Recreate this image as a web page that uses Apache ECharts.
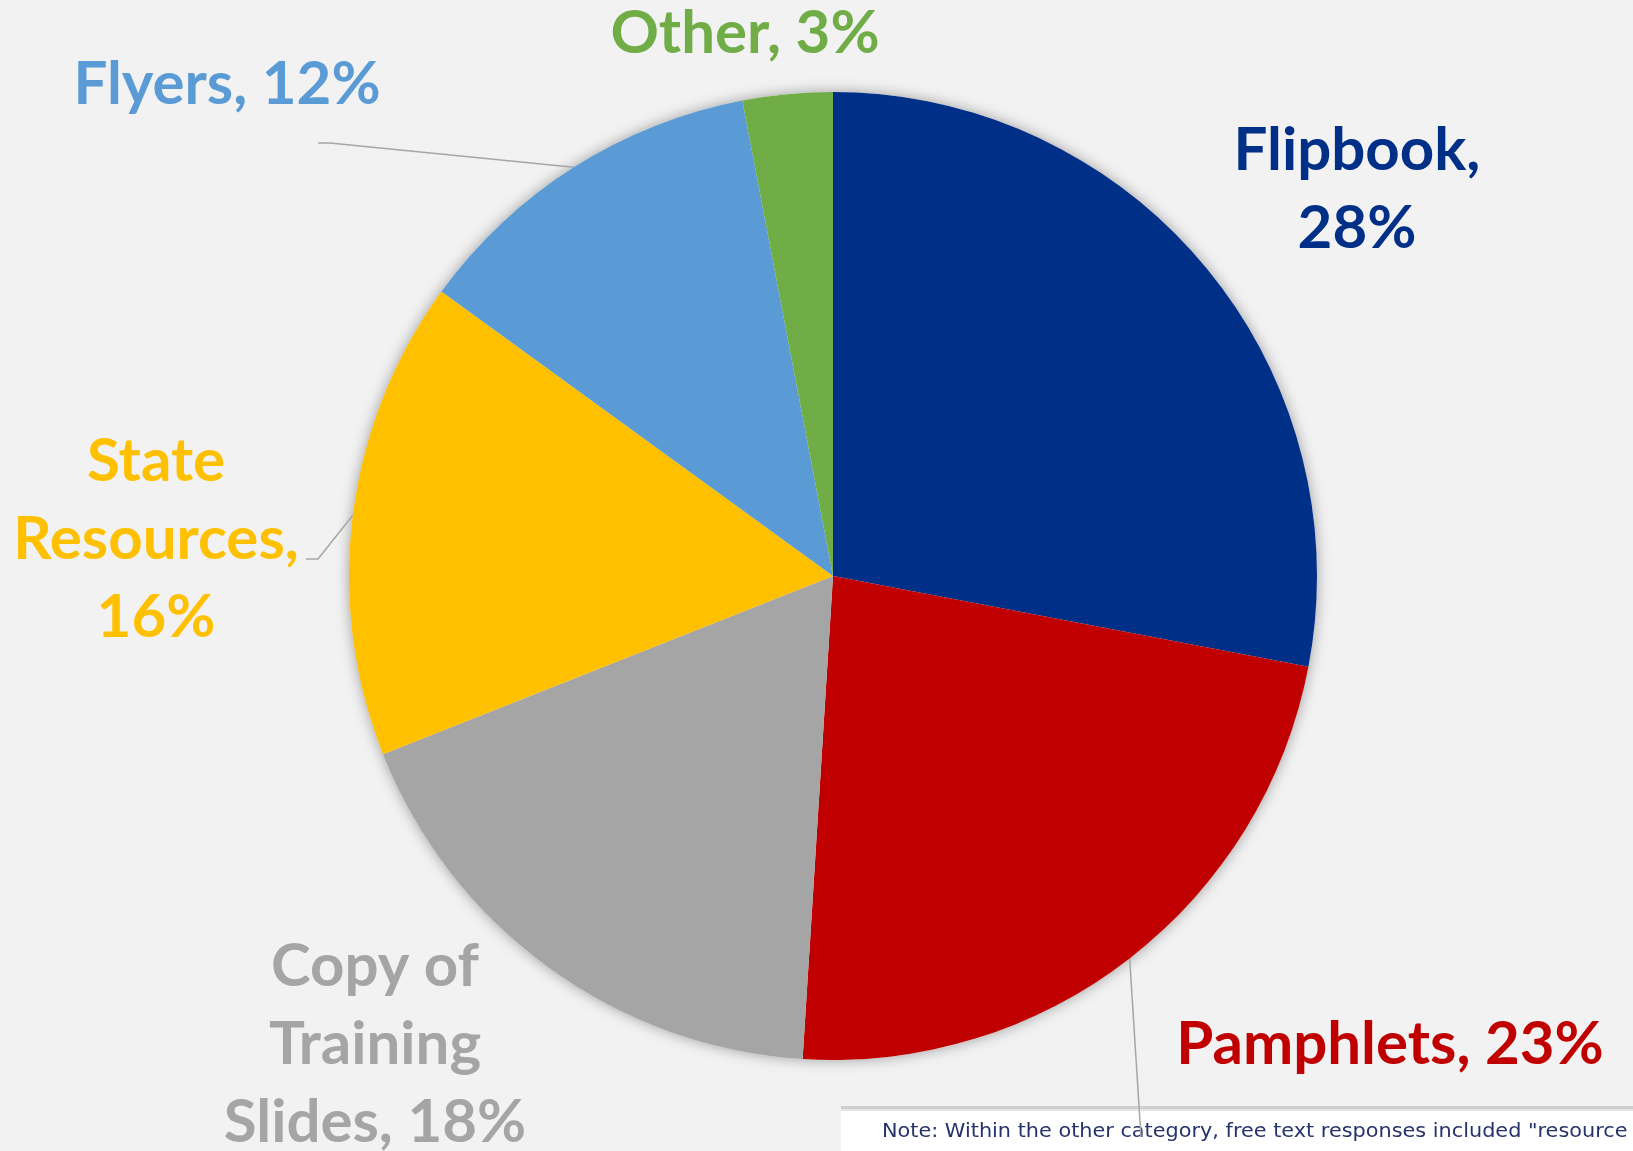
<!DOCTYPE html>
<html>
<head>
<meta charset="utf-8">
<script src="https://cdn.jsdelivr.net/npm/echarts@6/dist/echarts.min.js"></script>
<style>
  html, body { margin: 0; padding: 0; background: #f2f2f2; }
  #chart { width: 1633px; height: 1151px; }
</style>
</head>
<body>
<div id="chart"></div>
<script>
// Resource types shared, clockwise from 12 o'clock
const categories = ['Flipbook', 'Pamphlets', 'Copy of\nTraining\nSlides', 'State\nResources', 'Flyers', 'Other'];
const shares = [28, 23, 18, 16, 12, 3];
const colors = ['#002f87', '#c00000', '#a5a5a5', '#ffc000', '#5b9bd5', '#70ad47'];
// text between the name and the percentage in each label
const separators = ['\n', ' ', ' ', '\n', ' ', ' '];
const noteText = 'Note: Within the other category, free text responses included "resource';

// label anchor points (centre of each label block) and leader-line bends
const labelAnchors = [[1357, 190], [1390, 1045], [375, 1045], [156, 540], [227, 85], [745, 34]];
const leaderBends = [null, [[1141, 1137], [1141, 1137]], null, [[318, 559], [306, 559]], [[330, 143], [318, 143]], null];

const chart = echarts.init(document.getElementById('chart'));

const pieCenter = [833, 576];
const pieRadius = 484;

chart.setOption({
  backgroundColor: '#f2f2f2',
  animation: false,
  graphic: [
    { type: 'rect', z: 0, shape: { x: 841, y: 1106, width: 800, height: 60 }, style: { fill: '#ffffff' } },
    { type: 'rect', z: 0, shape: { x: 841, y: 1106, width: 800, height: 3 }, style: { fill: '#cfcfcf' } },
    { type: 'rect', z: 0, shape: { x: 841, y: 1109, width: 800, height: 2 }, style: { fill: '#e6e6e6' } },
    {
      type: 'text', z: 0, x: 882, y: 1122, scaleX: 1.04,
      style: { text: noteText, font: '20px "DejaVu Sans"', fill: '#26336b' }
    }
  ],
  series: [
    {
      // soft drop shadow underneath the pie
      type: 'pie', silent: true, z: 1,
      center: pieCenter, radius: pieRadius,
      label: { show: false }, labelLine: { show: false },
      itemStyle: { color: '#f2f2f2', shadowBlur: 14, shadowColor: 'rgba(0,0,0,0.35)' },
      data: [{ value: 1 }]
    },
    {
      type: 'pie', z: 2,
      center: pieCenter, radius: pieRadius,
      startAngle: 90, clockwise: true,
      itemStyle: { borderWidth: 0 },
      label: {
        show: true,
        position: 'outside',
        fontFamily: 'Lato',
        fontWeight: 'bold',
        fontSize: 60,
        lineHeight: 78,
        align: 'center',
        formatter: p => p.name + ',' + separators[p.dataIndex] + p.value + '%'
      },
      labelLine: { show: true, lineStyle: { color: '#a6a6a6', width: 1.5 } },
      labelLayout: params => {
        const i = params.dataIndex;
        const a = labelAnchors[i];
        const out = { x: a[0], y: a[1], align: 'center', verticalAlign: 'middle' };
        if (leaderBends[i] && params.labelLinePoints) {
          out.labelLinePoints = [params.labelLinePoints[0], leaderBends[i][0], leaderBends[i][1]];
        }
        return out;
      },
      data: categories.map((name, i) => ({
        name: name,
        value: shares[i],
        itemStyle: { color: colors[i] },
        label: { color: colors[i] },
        labelLine: { show: leaderBends[i] !== null }
      }))
    }
  ]
});
</script>
</body>
</html>
